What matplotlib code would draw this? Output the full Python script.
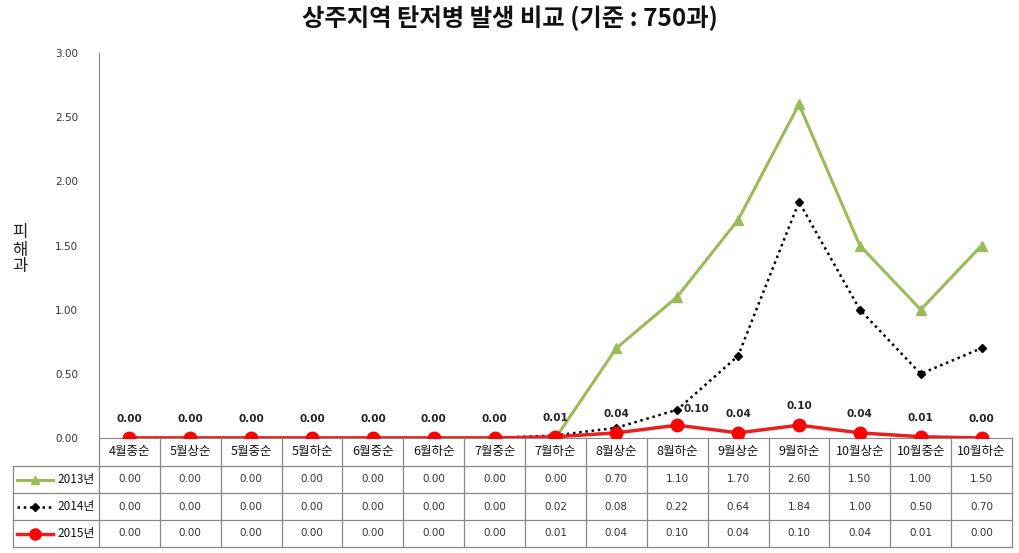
import matplotlib
matplotlib.use("Agg")
import matplotlib.pyplot as plt
from matplotlib.lines import Line2D

plt.rcParams['font.family'] = ['Noto Sans CJK KR', 'DejaVu Sans']

title = "상주지역 탄저병 발생 비교 (기준 : 750과)"
ylabel = "피\n해\n과"
categories = ["4월중순", "5월상순", "5월중순", "5월하순", "6월중순", "6월하순", "7월중순",
              "7월하순", "8월상순", "8월하순", "9월상순", "9월하순", "10월상순", "10월중순", "10월하순"]
series_names = ["2013년", "2014년", "2015년"]
v2013 = [0.00, 0.00, 0.00, 0.00, 0.00, 0.00, 0.00, 0.00, 0.70, 1.10, 1.70, 2.60, 1.50, 1.00, 1.50]
v2014 = [0.00, 0.00, 0.00, 0.00, 0.00, 0.00, 0.00, 0.02, 0.08, 0.22, 0.64, 1.84, 1.00, 0.50, 0.70]
v2015 = [0.00, 0.00, 0.00, 0.00, 0.00, 0.00, 0.00, 0.01, 0.04, 0.10, 0.04, 0.10, 0.04, 0.01, 0.00]
yticks = [0.0, 0.5, 1.0, 1.5, 2.0, 2.5, 3.0]

W, H = 1020, 553
fig = plt.figure(figsize=(W / 100, H / 100), dpi=100)

def fx(px):
    return px / W

def fy(py):
    return 1 - py / H

ax_l, ax_r, ax_t, ax_b = 99, 1012, 53, 438
ax = fig.add_axes([fx(ax_l), fy(ax_b), fx(ax_r - ax_l), fy(ax_t) - fy(ax_b)])
n = len(categories)
x = list(range(n))
ax.set_xlim(-0.5, n - 0.5)
ax.set_ylim(0, 3)

green = '#9BBB59'
red_line = '#E82020'
red_mk = '#FF0000'

ax.plot(x, v2013, color=green, lw=2.2, marker='^', ms=7, mfc=green, mec=green, zorder=3)
ax.plot(x, v2014, color='black', lw=1.8, ls=(0, (1, 1.5)), marker='D', ms=4.5, mfc='black', mec='black', zorder=4)
ax.plot(x, v2015, color=red_line, lw=2.5, marker='o', ms=9, mfc=red_mk, mec=red_mk, zorder=5)

for xi, v in enumerate(v2015):
    dx, dy = 0, 10
    # avoid the 2014 marker where the two series are close together
    if abs(v2014[xi] - v) > 0.08 and v2014[xi] < 0.4:
        dx, dy = 14, 8
    ax.annotate(f"{v:.2f}", (xi, v), xytext=(dx, dy), textcoords='offset points',
                ha='center', va='bottom', fontsize=7.5, fontweight='bold', color='#222222',
                family=['DejaVu Sans'])

ax.set_yticks(yticks)
ax.set_yticklabels([f"{t:.2f}" for t in yticks], fontsize=7.5, color='#333333', family=['DejaVu Sans'])
ax.tick_params(axis='y', length=0, pad=15)
ax.set_xticks([])
for s in ['top', 'right']:
    ax.spines[s].set_visible(False)
ax.spines['left'].set_color('#888888')
ax.spines['bottom'].set_color('#888888')

fig.text(fx(20), fy(250), ylabel, ha='center', va='center', fontsize=12, color='#222222', linespacing=1.0)
fig.text(0.5, fy(18), title, ha='center', va='center', fontsize=17.5, fontweight='bold', color='#111111')

# Data table
row_edges = [438, 466, 493, 520, 547]
tleft = 13
col_w = (ax_r - ax_l) / n
line_c = '#888888'

def hline(y, x0, x1):
    fig.add_artist(Line2D([fx(x0), fx(x1)], [fy(y), fy(y)], color=line_c, lw=0.9))

def vline(xp, y0, y1):
    fig.add_artist(Line2D([fx(xp), fx(xp)], [fy(y0), fy(y1)], color=line_c, lw=0.9))

for r in row_edges[1:]:
    hline(r, tleft, ax_r)
vline(tleft, row_edges[1], row_edges[-1])
for i in range(n + 1):
    vline(ax_l + i * col_w, row_edges[0], row_edges[-1])

for i, c in enumerate(categories):
    cx = ax_l + (i + 0.5) * col_w
    fig.text(fx(cx), fy((row_edges[0] + row_edges[1]) / 2), c, ha='center', va='center', fontsize=9, color='#111111')

all_vals = [v2013, v2014, v2015]
line_st = [dict(color=green, lw=2.2, ls='-'),
           dict(color='black', lw=1.8, ls=(0, (1, 1.5))),
           dict(color=red_line, lw=2.5, ls='-')]
mk_st = [dict(marker='^', ms=6, mfc=green, mec=green),
         dict(marker='D', ms=4, mfc='black', mec='black'),
         dict(marker='o', ms=8, mfc=red_mk, mec=red_mk)]
for r, (name, vals, ls_, mk_) in enumerate(zip(series_names, all_vals, line_st, mk_st)):
    cy = (row_edges[r + 1] + row_edges[r + 2]) / 2
    fig.add_artist(Line2D([fx(17), fx(53)], [fy(cy), fy(cy)], **ls_))
    fig.add_artist(Line2D([fx(35)], [fy(cy)], ls='none', **mk_))
    fig.text(fx(57), fy(cy), name, ha='left', va='center', fontsize=8.5, color='#111111')
    for i, v in enumerate(vals):
        cx = ax_l + (i + 0.5) * col_w
        fig.text(fx(cx), fy(cy), f"{v:.2f}", ha='center', va='center', fontsize=7.5,
                 color='#333333', family=['DejaVu Sans'])

fig.savefig("out.png", dpi=100)
